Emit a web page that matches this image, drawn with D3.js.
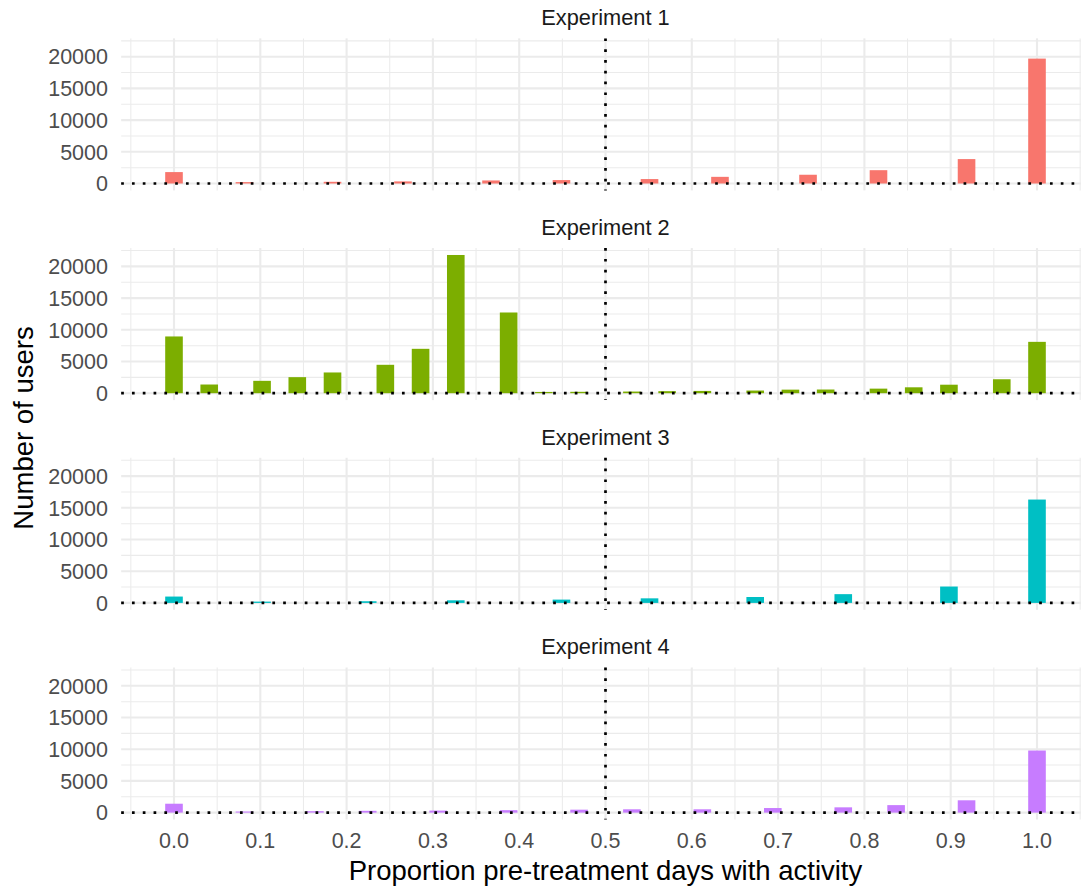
<!DOCTYPE html>
<html>
<head>
<meta charset="utf-8">
<script src="https://cdn.jsdelivr.net/npm/d3@7"></script>
<style>
  html, body { margin: 0; padding: 0; background: #fff; }
  svg { display: block; font-family: "Liberation Sans", Arial, Helvetica, sans-serif; }
</style>
</head>
<body>
<svg id="chart" width="1081" height="888"></svg>
<script>
// ---------------- data ----------------
const experiments = ["Experiment 1", "Experiment 2", "Experiment 3", "Experiment 4"];
const colors = ["#F8766D", "#7CAE00", "#00BFC4", "#C77CFF"];
const binCount = 49;            // bins of width 1/49 centred on k/49
// bin indices (k) and counts per experiment
const exp1Bins   = [0, 4, 9, 13, 18, 22, 27, 31, 36, 40, 45, 49];
const exp1Counts = [1800, 220, 270, 330, 480, 540, 700, 1050, 1380, 2100, 3850, 19700];
const exp2Bins   = [0, 2, 5, 7, 9, 12, 14, 16, 19, 21, 23, 26, 28, 30, 33, 35, 37, 40, 42, 44, 47, 49];
const exp2Counts = [8950, 1370, 1950, 2530, 3270, 4480, 7000, 21800, 12730, 200, 220, 260, 320, 360, 420, 560, 580, 720, 930, 1340, 2200, 8100];
const exp3Bins   = [0, 5, 11, 16, 22, 27, 33, 38, 44, 49];
const exp3Counts = [1000, 200, 260, 410, 520, 720, 930, 1380, 2580, 16300];
const exp4Bins   = [0, 4, 8, 11, 15, 19, 23, 26, 30, 34, 38, 41, 45, 49];
const exp4Counts = [1400, 170, 220, 280, 320, 380, 460, 520, 520, 720, 830, 1180, 1940, 9790];
const xTicks = [0, 0.1, 0.2, 0.3, 0.4, 0.5, 0.6, 0.7, 0.8, 0.9, 1.0];
const yTicks = [0, 5000, 10000, 15000, 20000];
const cutoff = 0.5;
const xTitle = "Proportion pre-treatment days with activity";
const yTitle = "Number of users";

const series = [
  {bins: exp1Bins, counts: exp1Counts},
  {bins: exp2Bins, counts: exp2Counts},
  {bins: exp3Bins, counts: exp3Counts},
  {bins: exp4Bins, counts: exp4Counts}
];

// ---------------- layout ----------------
const svg = d3.select("#chart");
const binW = 1 / binCount;
const xMin = -binW / 2, xMax = 1 + binW / 2;
const xPad = (xMax - xMin) * 0.05;
const x0px = 174, x1px = 1037;
const pxPerUnit = x1px - x0px;
const x = d3.scaleLinear()
  .domain([xMin - xPad, xMax + xPad])
  .range([x0px + (xMin - xPad) * pxPerUnit, x0px + (xMax + xPad) * pxPerUnit]);

const yMaxData = d3.max(series, s => d3.max(s.counts));
const yPad = yMaxData * 0.05;
const yDomain = [-yPad, yMaxData + yPad];
const pxPer = 31.7 / 5000;
const baselines = [183.5, 393.2, 602.9, 812.6];

const gridColor = "#EBEBEB";
const xMinor = d3.range(-0.05, 1.1, 0.1).map(v => +v.toFixed(2));
const yMinor = d3.range(2500, 25000, 5000);

const [pl, pr] = x.range();

series.forEach((s, i) => {
  const b0 = baselines[i];
  const y = d3.scaleLinear()
    .domain(yDomain)
    .range([b0 + yPad * pxPer, b0 - (yMaxData + yPad) * pxPer]);
  const [pb, pt] = y.range();
  const g = svg.append("g");

  // minor grid
  g.selectAll(".xminor").data(xMinor.filter(v => x(v) >= pl && x(v) <= pr)).join("line")
    .attr("x1", d => x(d)).attr("x2", d => x(d)).attr("y1", pt).attr("y2", pb)
    .attr("stroke", gridColor).attr("stroke-width", 1.05);
  g.selectAll(".yminor").data(yMinor.filter(v => v <= yDomain[1])).join("line")
    .attr("x1", pl).attr("x2", pr).attr("y1", d => y(d)).attr("y2", d => y(d))
    .attr("stroke", gridColor).attr("stroke-width", 1.05);
  // major grid
  g.selectAll(".xmajor").data(xTicks).join("line")
    .attr("x1", d => x(d)).attr("x2", d => x(d)).attr("y1", pt).attr("y2", pb)
    .attr("stroke", gridColor).attr("stroke-width", 2.1);
  g.selectAll(".ymajor").data(yTicks).join("line")
    .attr("x1", pl).attr("x2", pr).attr("y1", d => y(d)).attr("y2", d => y(d))
    .attr("stroke", gridColor).attr("stroke-width", 2.1);

  // bars
  const data = s.bins.map((k, j) => ({c: k * binW, n: s.counts[j]}));
  g.selectAll(".bar").data(data).join("rect")
    .attr("x", d => x(d.c - binW / 2))
    .attr("width", d => x(d.c + binW / 2) - x(d.c - binW / 2))
    .attr("y", d => y(d.n))
    .attr("height", d => y(0) - y(d.n))
    .attr("fill", colors[i]);

  // reference lines
  g.append("line")
    .attr("x1", x(cutoff)).attr("x2", x(cutoff)).attr("y1", pt).attr("y2", pb)
    .attr("stroke", "#000").attr("stroke-width", 2.7).attr("stroke-dasharray", "2.7 8.1");
  g.append("line")
    .attr("x1", pl).attr("x2", pr).attr("y1", y(0)).attr("y2", y(0))
    .attr("stroke", "#000").attr("stroke-width", 2.7).attr("stroke-dasharray", "2.7 8.1");

  // y tick labels
  g.selectAll(".ylab").data(yTicks).join("text")
    .attr("x", 108).attr("y", d => y(d)).attr("dy", "0.36em")
    .attr("text-anchor", "end").attr("font-size", 21.5).attr("fill", "#4D4D4D")
    .text(d => d);

  // strip label
  g.append("text")
    .attr("x", (pl + pr) / 2).attr("y", pt - 13)
    .attr("text-anchor", "middle").attr("font-size", 21.8).attr("fill", "#1A1A1A")
    .text(experiments[i]);

  // x tick labels on last panel
  if (i === series.length - 1) {
    g.selectAll(".xlab").data(xTicks).join("text")
      .attr("x", d => x(d)).attr("y", 848)
      .attr("text-anchor", "middle").attr("font-size", 21.5).attr("fill", "#4D4D4D")
      .text(d => d.toFixed(1));
  }
});

// axis titles
const [pl2, pr2] = x.range();
svg.append("text")
  .attr("x", (pl2 + pr2) / 2).attr("y", 880)
  .attr("text-anchor", "middle").attr("font-size", 27.5).attr("fill", "#000")
  .text(xTitle);
svg.append("text")
  .attr("transform", "translate(33,428) rotate(-90)")
  .attr("text-anchor", "middle").attr("font-size", 27.5).attr("fill", "#000")
  .text(yTitle);
</script>
</body>
</html>
